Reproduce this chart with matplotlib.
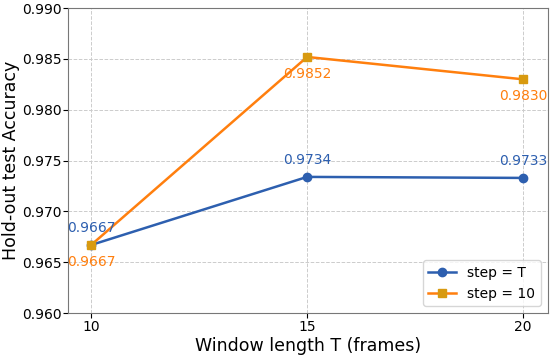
import matplotlib
matplotlib.use("Agg")
import matplotlib.pyplot as plt

window = [10, 15, 20]
acc_step_T = [0.9667, 0.9734, 0.9733]
acc_step_10 = [0.9667, 0.9852, 0.9830]
yticks = [0.960, 0.965, 0.970, 0.975, 0.980, 0.985, 0.990]

blue = "#2d5faf"
orange = "#ff7f0e"

fig, ax = plt.subplots(figsize=(5.5, 3.55), dpi=100)

ax.plot(window, acc_step_T, color=blue, marker="o", markersize=6, lw=1.8, label="step = T")
ax.plot(window, acc_step_10, color=orange, marker="s", markersize=6, lw=1.8,
        markerfacecolor="#d89a10", markeredgecolor="#d89a10", label="step = 10")

for x, y in zip(window, acc_step_T):
    ax.annotate(f"{y:.4f}", (x, y), xytext=(0, 7), textcoords="offset points",
                ha="center", va="bottom", color=blue, fontsize=10)
for x, y in zip(window, acc_step_10):
    ax.annotate(f"{y:.4f}", (x, y), xytext=(0, -7), textcoords="offset points",
                ha="center", va="top", color=orange, fontsize=10)

ax.set_xlim(9.47, 20.57)
ax.set_ylim(0.960, 0.990)
ax.set_xticks(window)
ax.set_yticks(yticks)
ax.set_yticklabels([f"{v:.3f}" for v in yticks])
ax.tick_params(axis="both", labelsize=10, pad=1.5)
ax.set_xlabel("Window length T (frames)", fontsize=12.5, labelpad=2)
ax.set_ylabel("Hold-out test Accuracy", fontsize=12.5, labelpad=1)
ax.grid(True, linestyle="--", color="#cccccc", linewidth=0.7)
for s in ax.spines.values():
    s.set_color("#777777")
ax.legend(loc="lower right", fontsize=10)

fig.subplots_adjust(left=0.124, right=0.996, top=0.977, bottom=0.118)
fig.savefig("out.png")
